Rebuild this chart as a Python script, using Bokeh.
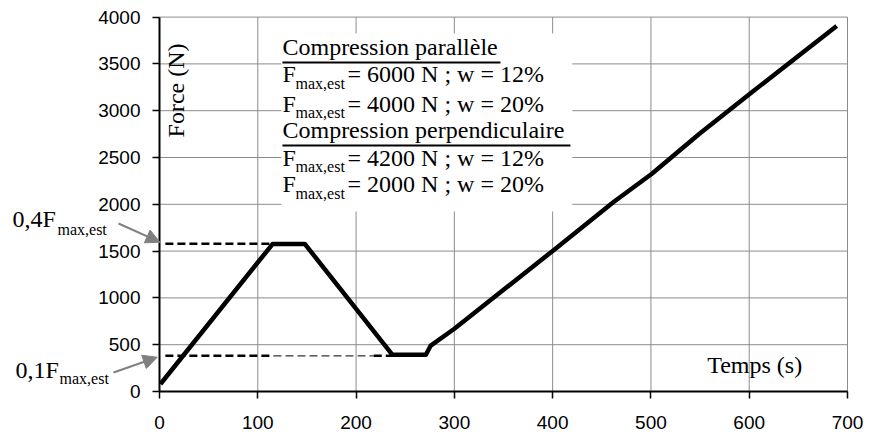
import math
from bokeh.plotting import figure
from bokeh.models import Label, Arrow, NormalHead, FixedTicker, Range1d
from bokeh.embed import file_html
from bokeh.resources import INLINE

# ---- data ----
time_s = [1, 115, 148, 237, 271, 276, 300, 401, 462, 501, 550, 603, 689]
force_N = [80, 1575, 1575, 392, 392, 491, 670, 1510, 2025, 2326, 2760, 3200, 3905]

x_ticks = [0, 100, 200, 300, 400, 500, 600, 700]
y_ticks = [0, 500, 1000, 1500, 2000, 2500, 3000, 3500, 4000]

f_04 = 1578   # 0,4 F_max,est level
f_01 = 381    # 0,1 F_max,est level

legend_titles = ["Compression parallèle", "Compression perpendiculaire"]
legend_values = ["= 6000 N ; w = 12%", "= 4000 N ; w = 20%",
                 "= 4200 N ; w = 12%", "= 2000 N ; w = 20%"]
sub_text = "max,est"
x_title = "Temps (s)"
y_title = "Force (N)"

SERIF = "Liberation Serif"
SANS = "Liberation Sans"
GRID = "#8c8c8c"

# visible ranges extend beyond the axes so that side annotations and tick labels fit
X_RANGE = (-161.77, 722.38)
Y_RANGE = (-491.45, 4177.35)

p = figure(width=869, height=437, x_range=Range1d(*X_RANGE), y_range=Range1d(*Y_RANGE),
           output_backend="svg", toolbar_location=None,
           min_border_left=0, min_border_right=0, min_border_top=0, min_border_bottom=0)
p.background_fill_color = "white"
p.border_fill_color = "white"
p.outline_line_color = None
p.xgrid.visible = False
p.ygrid.visible = False

p.xaxis.ticker = FixedTicker(ticks=x_ticks)
p.yaxis.ticker = FixedTicker(ticks=y_ticks)
p.yaxis.fixed_location = 0
p.xaxis.fixed_location = 0
p.xaxis.bounds = (x_ticks[0], x_ticks[-1])
p.yaxis.bounds = (y_ticks[0], y_ticks[-1])
for ax in (p.xaxis[0], p.yaxis[0]):
    ax.axis_line_color = "black"
    ax.axis_line_width = 2
    ax.major_tick_line_color = "black"
    ax.major_tick_line_width = 1.5
    ax.major_tick_in = 0
    ax.major_tick_out = 7
    ax.minor_tick_line_color = None
    ax.major_label_text_font = SANS
    ax.major_label_text_font_size = "19px"
    ax.major_label_text_color = "black"
p.xaxis.major_label_standoff = 17
p.yaxis.major_label_standoff = 12

# grid limited to the data area
p.segment(x0=[x_ticks[0]] * len(y_ticks), x1=[x_ticks[-1]] * len(y_ticks), y0=y_ticks, y1=y_ticks,
          line_color=GRID, line_width=1)
p.segment(x0=x_ticks, x1=x_ticks, y0=[y_ticks[0]] * len(x_ticks), y1=[y_ticks[-1]] * len(x_ticks),
          line_color=GRID, line_width=1)

# white box behind the legend text
p.quad(left=124, right=420, bottom=1923, top=3825, fill_color="white", line_color=None)

# reference dashed lines
p.line([6, 116], [f_04, f_04], line_color="black", line_width=2.5, line_dash="8 4")
p.line([6, 116], [f_01, f_01], line_color="black", line_width=2.5, line_dash="8 4")
p.line([116, 218], [f_01, f_01], line_color="#333333", line_width=1.2, line_dash="8 4")
p.line([218, 242], [f_01, f_01], line_color="black", line_width=2.5, line_dash="8 4")

# data curve
p.line(time_s, force_N, line_color="black", line_width=4.5, line_join="round")

# legend underlines
p.segment(x0=[125.1, 125.1], y0=[3515, 2628], x1=[346.9, 418.1], y1=[3515, 2628],
          line_color="black", line_width=2)

def lab(x, y, text, size, font=SERIF, **kw):
    p.add_layout(Label(x=x, y=y, text=text, text_font=font, text_font_size=size,
                       text_color="black", **kw))

title_y = [3547, 2660]
value_y = [3248, 2938, 2361, 2073]
for t, y in zip(legend_titles, title_y):
    lab(125.1, y, t, "24px")
for v, y in zip(legend_values, value_y):
    lab(125.1, y, "F", "24px")
    lab(138.4, y - 53, sub_text, "16px")
    lab(191.3, y, v, "24px")

# axis titles inside the frame
lab(557.2, 146, x_title, "24px")
lab(30.5, 3216, y_title, "24px", angle=math.pi / 2, text_align="center")

# left annotations
lab(-149.5, 1699, "0,4F", "24px")
lab(-103.8, 1645, sub_text, "16px")
lab(-146.5, 96, "0,1F", "24px")
lab(-101.7, 43, sub_text, "16px")

for xs, ys, xe, ye in [(-41.7, 1795, 0.5, 1595), (-46.8, 203, -2.3, 366)]:
    p.add_layout(Arrow(x_start=xs, y_start=ys, x_end=xe, y_end=ye,
                       line_color="#808080", line_width=2,
                       end=NormalHead(size=14, fill_color="#808080", line_color="#808080")))

open("out.html", "w").write(file_html(p, INLINE))
